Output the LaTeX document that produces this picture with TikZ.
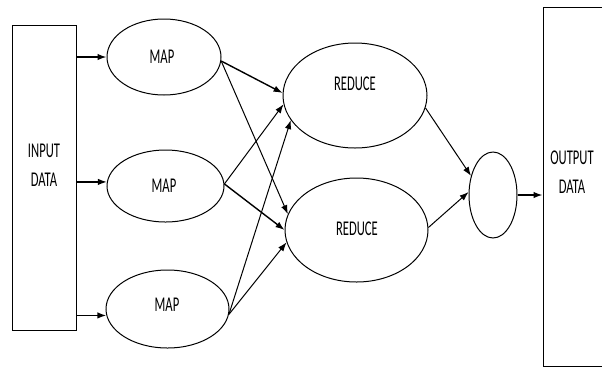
\documentclass[tikz,border=0pt]{standalone}
\usepackage{fontspec}
\setmainfont{Carlito}
\usetikzlibrary{shapes.geometric,arrows.meta}
\newcommand\lbl[1]{\scalebox{0.6}[1]{#1}}
\tikzset{
  ell/.style={draw, ellipse, inner sep=0pt, line width=1pt},
  box/.style={draw, rectangle, inner sep=0pt, line width=1pt},
  txt/.style={font=\fontsize{21}{29}\selectfont, align=center, inner sep=0pt},
  arr/.style={-{Latex[length=9pt,width=6.5pt]}, line width=1pt},
  thickarr/.style={arr, line width=1.4pt},
}
\begin{document}
\begin{tikzpicture}[x=1pt,y=-1pt]
\clip (0,0) rectangle (602,368);
\fill[white] (0,0) rectangle (602,368);
% boxes
\node[box, minimum width=64pt, minimum height=305pt] (in) at (44,177.5) {};
\node[box, minimum width=80pt, minimum height=359pt] (out) at (583,186.5) {};
\node[txt] (intext) at (44,165) {\lbl{INPUT}\\\lbl{DATA}};
\node[txt] (outtext) at (572,172) {\lbl{OUTPUT}\\\lbl{DATA}};
% map ellipses
\node[ell, minimum width=114pt, minimum height=76pt] (m1) at (164,57) {};
\node[ell, minimum width=117pt, minimum height=72pt] (m2) at (165.5,186) {};
\node[ell, minimum width=123pt, minimum height=78pt] (m3) at (167.5,309) {};
\node[txt] (m1t) at (162,57) {\lbl{MAP}};
\node[txt] (m2t) at (164,186) {\lbl{MAP}};
\node[txt] (m3t) at (167,305) {\lbl{MAP}};
% reduce ellipses
\node[ell, minimum width=144pt, minimum height=105pt] (r1) at (355,95.5) {};
\node[ell, minimum width=143pt, minimum height=104pt] (r2) at (356.5,230) {};
\node[txt] (r1t) at (355,84) {\lbl{REDUCE}};
\node[txt] (r2t) at (357,229) {\lbl{REDUCE}};
% small ellipse
\node[ell, minimum width=48pt, minimum height=86pt] (s) at (493,195) {};
% input arrows
\draw[thickarr] (m1.west -| in.east) -- (m1.west);
\draw[thickarr] (m2.176 -| in.east) -- (m2.176);
\draw[thickarr] (m3.186 -| in.east) -- (m3.186);
% map to reduce
\draw[thickarr] (m1.-4) -- (r1.178);
\draw[arr] (m1.-4) -- (r2.167);
\draw[arr] (m2.2) -- (r1.187);
\draw[thickarr] (m2.2) -- (r2.180);
\draw[arr] (m3.-5) -- (r1.201);
\draw[arr] (m3.-5) -- (r2.190);
% reduce to small
\draw[arr] (r1.-10) -- (s.139);
\draw[arr] (r2.2) -- (s.173);
% small to output
\draw[thickarr] (s.east) -- (s.east -| out.west);
\end{tikzpicture}
\end{document}
